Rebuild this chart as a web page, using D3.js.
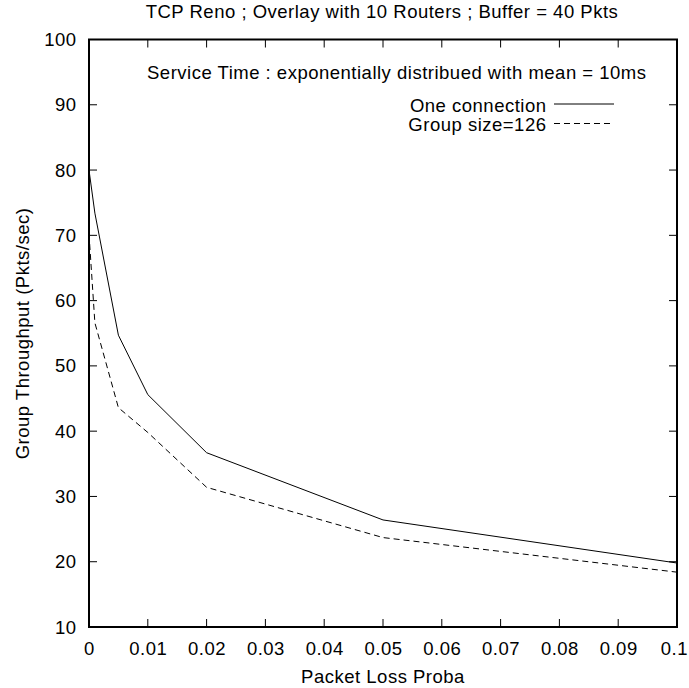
<!DOCTYPE html>
<html><head><meta charset="utf-8">
<script src="https://cdn.jsdelivr.net/npm/d3@7"></script>
<style>body{margin:0;background:#fff}svg{display:block}text{font-family:"Liberation Sans",Arial,sans-serif;fill:#000;letter-spacing:0.5px}</style>
</head><body>
<script>
const title = "TCP Reno ; Overlay with 10 Routers ; Buffer = 40 Pkts";
const subtitle = "Service Time : exponentially distribued with mean = 10ms";
const xLabel = "Packet Loss Proba";
const yLabel = "Group Throughput (Pkts/sec)";
const seriesNames = ["One connection", "Group size=126"];
const xOne = [0, 0.001, 0.005, 0.01, 0.02, 0.05, 0.1];
const yOne = [80, 73.4, 54.7, 45.6, 36.7, 26.4, 19.8];
const xGroup = [0, 0.001, 0.005, 0.01, 0.02, 0.05, 0.1];
const yGroup = [70.2, 56.6, 43.6, 39.8, 31.4, 23.7, 18.4];
const xTicks = [0, 0.01, 0.02, 0.03, 0.04, 0.05, 0.06, 0.07, 0.08, 0.09, 0.1];
const yTicks = [10, 20, 30, 40, 50, 60, 70, 80, 90, 100];

const W = 689, H = 688;
const L = 89, R = 677, T = 39.5, B = 627;
const svg = d3.select("body").append("svg").attr("width", W).attr("height", H);
const x = d3.scaleLinear().domain([0, 0.1]).range([L, R]);
const y = d3.scaleLinear().domain([10, 100]).range([B, T]);
const fs = 18.5;

// ticks (inward, mirrored)
const tl = 8;
const g = svg.append("g").attr("stroke", "#000").attr("stroke-width", 1);
xTicks.forEach(v => {
  g.append("line").attr("x1", x(v)).attr("x2", x(v)).attr("y1", B).attr("y2", B - tl);
  g.append("line").attr("x1", x(v)).attr("x2", x(v)).attr("y1", T).attr("y2", T + tl);
});
yTicks.forEach(v => {
  g.append("line").attr("x1", L).attr("x2", L + tl).attr("y1", y(v)).attr("y2", y(v));
  g.append("line").attr("x1", R).attr("x2", R - tl).attr("y1", y(v)).attr("y2", y(v));
});
// tick labels
const fmtX = d => d === 0 ? "0" : d3.format("~g")(d);
svg.append("g").selectAll("text").data(xTicks).join("text")
  .attr("y", 655).attr("text-anchor", "middle")
  .attr("font-size", fs).text(fmtX)
  .each(function(d) {
    const w = this.getComputedTextLength();
    const cx = Math.min(x(d) + 0.5, W - 1 - w / 2);
    d3.select(this).attr("x", cx);
  });
svg.append("g").selectAll("text").data(yTicks).join("text")
  .attr("x", 76.5).attr("y", d => y(d) + 6.5).attr("text-anchor", "end")
  .attr("font-size", fs).text(d => d);

// frame
svg.append("rect").attr("x", L).attr("y", T).attr("width", R - L).attr("height", B - T)
  .attr("fill", "none").attr("stroke", "#000").attr("stroke-width", 2);

// titles
svg.append("text").attr("x", 382).attr("y", 18).attr("text-anchor", "middle")
  .attr("font-size", fs).text(title);
svg.append("text").attr("x", 383).attr("y", 683).attr("text-anchor", "middle")
  .attr("font-size", fs).text(xLabel);
svg.append("text").attr("transform", `translate(29,333.5) rotate(-90)`)
  .attr("text-anchor", "middle").attr("font-size", fs).text(yLabel);
svg.append("text").attr("x", 646.5).attr("y", 79).attr("text-anchor", "end")
  .attr("font-size", fs).text(subtitle);

// lines
const line = d3.line().x(d => x(d[0])).y(d => y(d[1]));
const dash = "6,4";
svg.append("path").datum(d3.zip(xOne, yOne)).attr("d", line)
  .attr("fill", "none").attr("stroke", "#000").attr("stroke-width", 1);
svg.append("path").datum(d3.zip(xGroup, yGroup)).attr("d", line)
  .attr("fill", "none").attr("stroke", "#000").attr("stroke-width", 1).attr("stroke-dasharray", dash);

// legend
const legY = [104, 123.5];
seriesNames.forEach((n, i) => {
  svg.append("text").attr("x", 546.5).attr("y", legY[i] + 7.5).attr("text-anchor", "end")
    .attr("font-size", fs).text(n);
  svg.append("line").attr("x1", 554).attr("x2", 614).attr("y1", legY[i]).attr("y2", legY[i])
    .attr("stroke", "#000").attr("stroke-width", 1)
    .attr("stroke-dasharray", i === 1 ? dash : null);
});
</script>
</body></html>
